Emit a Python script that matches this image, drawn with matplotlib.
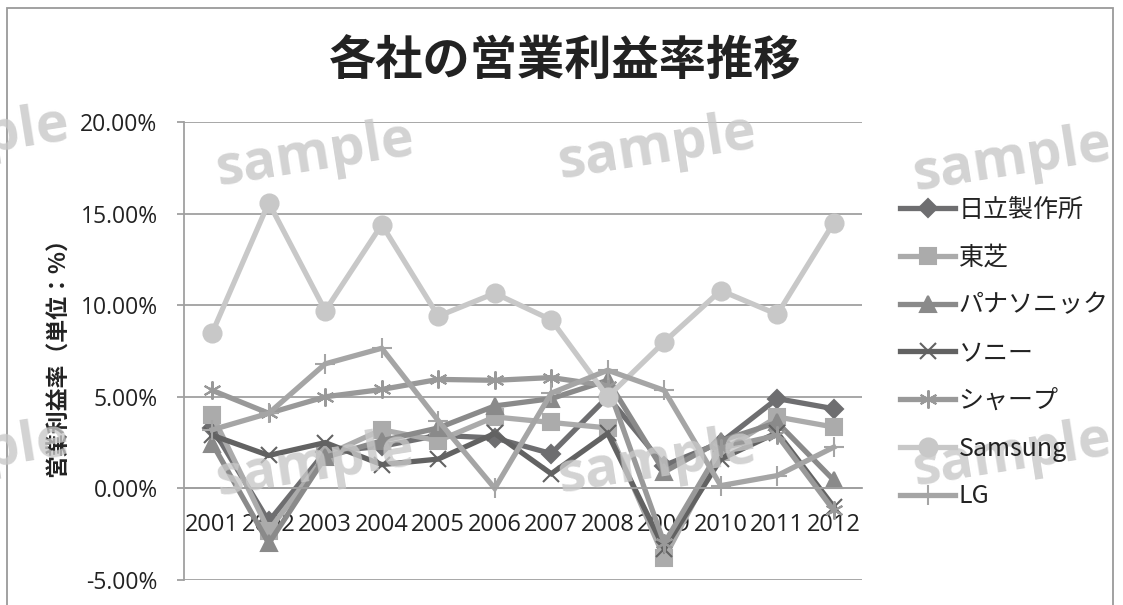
import matplotlib.pyplot as plt
from matplotlib.patches import Rectangle
from matplotlib.ticker import FuncFormatter

plt.rcParams['font.family'] = ['Noto Sans CJK JP', 'DejaVu Sans']

years = ['2001', '2002', '2003', '2004', '2005', '2006',
         '2007', '2008', '2009', '2010', '2011', '2012']

# operating margin (%)
hitachi = [3.3, -1.8, 2.0, 2.3, 2.9, 2.75, 1.9, 5.0, 1.25, 2.5, 4.9, 4.35]
toshiba = [4.0, -2.3, 1.8, 3.2, 2.6, 3.9, 3.6, 3.3, -3.8, 2.0, 3.9, 3.35]
panasonic = [2.45, -3.0, 1.7, 2.6, 3.3, 4.5, 4.9, 5.9, 0.9, 2.6, 3.6, 0.45]
sony = [2.9, 1.8, 2.5, 1.3, 1.6, 3.0, 0.8, 3.0, -3.3, 1.6, 3.05, -1.0]
sharp = [5.35, 4.1, 5.0, 5.4, 5.95, 5.9, 6.05, 5.6, -3.0, 2.2, 2.9, -1.2]
samsung = [8.5, 15.6, 9.7, 14.4, 9.4, 10.65, 9.2, 5.0, 8.0, 10.8, 9.5, 14.5]
lg = [3.2, 4.1, 6.8, 7.65, 3.7, 0.0, 5.2, 6.45, 5.35, 0.15, 0.7, 2.25]

names = ['日立製作所', '東芝', 'パナソニック', 'ソニー', 'シャープ', 'Samsung', 'LG']
series = [hitachi, toshiba, panasonic, sony, sharp, samsung, lg]
colors = ['#6e6e70', '#ababab', '#8a8a8a', '#626262', '#999999', '#c8c8c8', '#a5a5a5']
markers = ['D', 's', '^', 'x', (6, 2, 0), 'o', '+']
msizes = [9, 11, 11, 11, 13, 13, 15]

fig = plt.figure(figsize=(11.23, 6.05), dpi=100)
ax = fig.add_axes([184 / 1123, 1 - 580 / 605, (862 - 184) / 1123, (580 - 122) / 605])

x = list(range(len(years)))
for vals, name, c, m, ms in zip(series, names, colors, markers, msizes):
    ax.plot(x, vals, color=c, lw=3.8, marker=m, markersize=ms,
            markeredgewidth=1.5, markeredgecolor=c, markerfacecolor=c,
            label=name, solid_joinstyle='miter')

ax.set_xlim(-0.5, len(years) - 0.5)
ax.set_ylim(-5, 20)
ax.set_yticks([-5, 0, 5, 10, 15, 20])
ax.yaxis.set_major_formatter(FuncFormatter(lambda v, p: f'{v:.2f}%'))
ax.grid(axis='y', color='#a0a0a0', lw=1.3)
ax.set_axisbelow(True)

for s in ['top', 'right']:
    ax.spines[s].set_visible(False)
ax.spines['left'].set_color('#a0a0a0')
ax.spines['left'].set_linewidth(1.3)
ax.spines['bottom'].set_position(('data', 0))
ax.spines['bottom'].set_color('#a0a0a0')
ax.spines['bottom'].set_linewidth(1.3)

ax.set_xticks(x)
ax.set_xticklabels(years, family=['Open Sans', 'DejaVu Sans'])
ax.tick_params(axis='x', length=0, pad=18, labelsize=17, labelcolor='#222222')
ax.tick_params(axis='y', length=5, width=1.3, color='#a0a0a0', pad=14,
               labelsize=16.5, labelcolor='#222222')
for t in ax.get_yticklabels():
    t.set_family(['Open Sans', 'DejaVu Sans'])

fig.text(58 / 1123, 1 - 352 / 605, '営業利益率（単位：%）', rotation=90,
         ha='center', va='center', fontsize=16.5, fontweight='bold', color='#222222')
fig.text(565 / 1123, 1 - 62 / 605, '各社の営業利益率推移', ha='center', va='center',
         fontsize=34, fontweight='bold', color='#222222')

leg = fig.legend(loc='upper left', bbox_to_anchor=(900 / 1123, 1 - 197 / 605),
                 frameon=False, fontsize=18, handlelength=2.2, handletextpad=0.15,
                 labelspacing=0.87, borderaxespad=0, borderpad=0)
leg.set_zorder(6)
for t in leg.get_texts():
    t.set_color('#222222')

# watermark
wm = [(315, 155), (657, 148), (1012, 160), (-30, 140),
      (315, 465), (657, 462), (1012, 455), (-30, 455)]
for px, py in wm:
    fig.text(px / 1123, 1 - py / 605, 'sample', ha='center', va='center',
             rotation=9, fontsize=40, fontweight='bold', color='#c8c8c8',
             alpha=0.8, family=['Open Sans', 'DejaVu Sans'], zorder=4)

fig.patches.append(Rectangle((7 / 1123, -0.01), (1113 - 7) / 1123, 1 - 8 / 605 + 0.01,
                             transform=fig.transFigure, fill=False,
                             edgecolor='#9a9a9a', lw=1.3))

fig.savefig('out.png', dpi=100)
